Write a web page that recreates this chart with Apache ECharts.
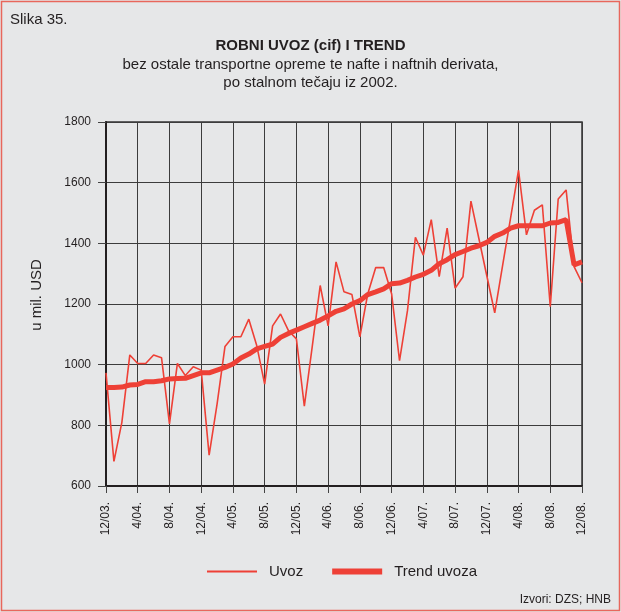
<!DOCTYPE html>
<html>
<head>
<meta charset="utf-8">
<script src="https://cdn.jsdelivr.net/npm/echarts@6/dist/echarts.min.js"></script>
<style>
  html, body { margin: 0; padding: 0; background: #ffffff; }
  #chart { width: 621px; height: 612px; }
</style>
</head>
<body>
<div id="chart"></div>
<script>
// Months from 12/03 to 12/08
const months = [
  '12/03.',
  '1/04.', '2/04.', '3/04.', '4/04.', '5/04.', '6/04.', '7/04.', '8/04.', '9/04.', '10/04.', '11/04.', '12/04.',
  '1/05.', '2/05.', '3/05.', '4/05.', '5/05.', '6/05.', '7/05.', '8/05.', '9/05.', '10/05.', '11/05.', '12/05.',
  '1/06.', '2/06.', '3/06.', '4/06.', '5/06.', '6/06.', '7/06.', '8/06.', '9/06.', '10/06.', '11/06.', '12/06.',
  '1/07.', '2/07.', '3/07.', '4/07.', '5/07.', '6/07.', '7/07.', '8/07.', '9/07.', '10/07.', '11/07.', '12/07.',
  '1/08.', '2/08.', '3/08.', '4/08.', '5/08.', '6/08.', '7/08.', '8/08.', '9/08.', '10/08.', '11/08.', '12/08.'
];

// Monthly merchandise imports, mil. USD
const uvoz = [
  973,
  681, 810, 1032, 1004, 1004, 1032, 1023, 805, 1004, 964, 993, 982,
  702, 870, 1060, 1092, 1092, 1150, 1063, 936, 1128, 1167, 1112, 1085,
  863, 1060, 1261, 1128, 1339, 1240, 1231, 1092, 1234, 1320, 1320, 1234,
  1013, 1178, 1420, 1361, 1478, 1290, 1450, 1252, 1290, 1539, 1416, 1293,
  1171, 1328, 1484, 1641, 1428, 1509, 1527, 1191, 1546, 1576, 1323, 1270
];

// Import trend, mil. USD
const trendUvoza = [
  925,
  925, 926, 933, 935, 944, 944, 947, 953, 954, 955, 964, 973,
  973, 982, 991, 1002, 1022, 1035, 1052, 1060, 1068, 1090, 1103, 1114,
  1125, 1136, 1147, 1161, 1176, 1184, 1200, 1211, 1231, 1240, 1250, 1267,
  1269, 1278, 1289, 1298, 1311, 1333, 1346, 1363, 1373, 1384, 1392, 1403,
  1423, 1434, 1450, 1458, 1458, 1458, 1458, 1467, 1469, 1478, 1329, 1339
];

const FONT = "'Liberation Sans', Arial, sans-serif";
const RED = '#ee4036';
const INK = '#231f20';

const chart = echarts.init(document.getElementById('chart'), null, { renderer: 'canvas' });

chart.setOption({
  backgroundColor: '#e6e7e8',
  animation: false,
  textStyle: { fontFamily: FONT, color: INK },
  graphic: [
    {
      type: 'rect',
      shape: { x: 1.5, y: 1.5, width: 618, height: 609 },
      style: { fill: 'none', stroke: '#e8675c', lineWidth: 1.5 },
      silent: true
    },
    {
      type: 'text',
      right: 10,
      top: 594,
      style: { text: 'Izvori: DZS; HNB', fontSize: 12, fontFamily: FONT, fill: INK }
    }
  ],
  title: [
    {
      text: 'Slika 35.',
      left: 10,
      top: 12,
      padding: 0,
      textStyle: { fontSize: 15, fontWeight: 'normal', fontFamily: FONT, color: INK }
    },
    {
      text: 'ROBNI UVOZ (cif) I TREND',
      subtext: 'bez ostale transportne opreme te nafte i naftnih derivata,\npo stalnom tečaju iz 2002.',
      left: 'center',
      top: 37,
      padding: 0,
      itemGap: 2,
      textStyle: { fontSize: 15, fontWeight: 'bold', fontFamily: FONT, color: INK, lineHeight: 17 },
      subtextStyle: { fontSize: 15, fontFamily: FONT, color: INK, lineHeight: 18, align: 'center' }
    }
  ],
  legend: {
    left: 202,
    top: 559,
    itemWidth: 50,
    itemHeight: 14,
    itemGap: 29,
    textStyle: { fontSize: 15, fontFamily: FONT, color: INK, padding: [0, 0, 0, 7] },
    data: [
      { name: 'Uvoz', icon: 'path://M0,0H50V2H0Z' },
      { name: 'Trend uvoza', icon: 'path://M0,0H50V6H0Z' }
    ]
  },
  grid: {
    left: 106,
    right: 39,
    top: 122,
    bottom: 126,
    show: true,
    backgroundColor: '#e6e7e8',
    borderColor: '#333333',
    borderWidth: 1.5
  },
  xAxis: {
    type: 'category',
    data: months,
    boundaryGap: false,
    axisLine: { lineStyle: { color: INK, width: 2 } },
    axisTick: { interval: 3, length: 7, lineStyle: { color: '#444444', width: 1 } },
    axisLabel: {
      interval: 3,
      rotate: 90,
      margin: 16,
      fontSize: 12,
      fontFamily: FONT,
      color: INK
    },
    splitLine: { show: true, interval: 3, lineStyle: { color: '#3c3c3c', width: 1 } }
  },
  yAxis: {
    type: 'value',
    min: 600,
    max: 1800,
    interval: 200,
    name: 'u mil. USD',
    nameLocation: 'middle',
    nameGap: 62,
    nameTextStyle: { fontSize: 15, fontFamily: FONT, color: INK, padding: [0, 0, 0, 18] },
    axisLine: { show: true, lineStyle: { color: INK, width: 2 } },
    axisTick: { show: true, length: 8, lineStyle: { color: '#444444', width: 1 } },
    axisLabel: { margin: 15, fontSize: 12, fontFamily: FONT, color: INK, formatter: v => String(v) },
    splitLine: { show: true, lineStyle: { color: '#3c3c3c', width: 1 } }
  },
  series: [
    {
      name: 'Uvoz',
      type: 'line',
      data: uvoz,
      showSymbol: false,
      symbol: 'none',
      lineStyle: { color: RED, width: 1.6 },
      itemStyle: { color: RED },
      z: 3
    },
    {
      name: 'Trend uvoza',
      type: 'line',
      data: trendUvoza,
      showSymbol: false,
      symbol: 'none',
      lineStyle: { color: RED, width: 5 },
      itemStyle: { color: RED },
      z: 4
    }
  ]
});
</script>
</body>
</html>
